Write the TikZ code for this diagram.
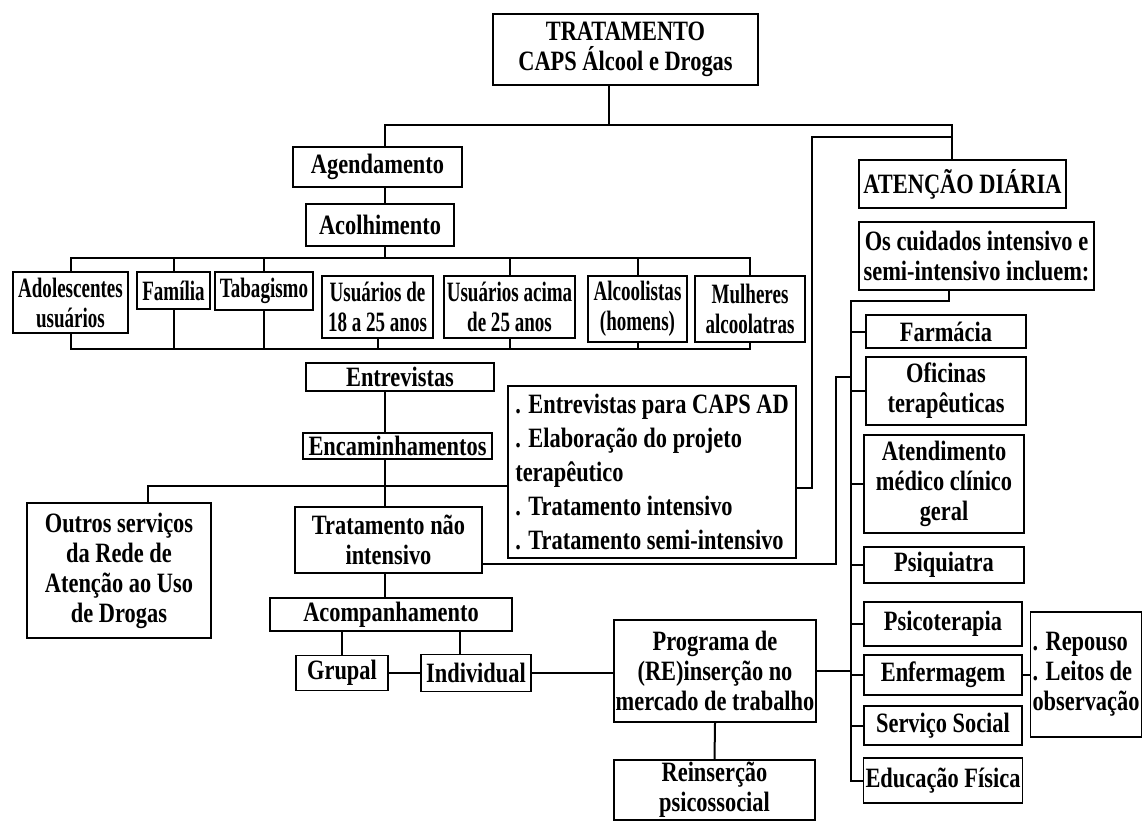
\documentclass[tikz,border=0pt]{standalone}
\usepackage{fontspec}
\setmainfont{Liberation Serif}[FakeStretch=0.8]
\newfontfamily\narrowfont{Liberation Serif}[FakeStretch=0.68]

\begin{document}
\begin{tikzpicture}[x=0.5pt, y=-0.5pt, line width=1pt,
  box/.style={draw, line width=0.9pt, align=center, inner sep=1pt, font=\bfseries\fontsize{14}{15}\selectfont},
  narrowbox/.style={box, font=\narrowfont\bfseries\fontsize{14}{15}\selectfont},
  listbox/.style={box, align=left, font=\bfseries\fontsize{14}{17}\selectfont}]
\useasboundingbox (0,0) rectangle (1144,821);
% organograma do tratamento no CAPS AD
\node[box, minimum width=132.5pt, minimum height=35.5pt] (trat) at (625.5,49.5) {TRATAMENTO\\CAPS Álcool e Drogas};
\node[box, minimum width=84.5pt, minimum height=20pt] (agend) at (377.5,167) {Agendamento};
\node[box, minimum width=74pt, minimum height=21pt] (acolh) at (380,225) {Acolhimento};

\node[narrowbox, minimum width=57.5pt, minimum height=30.5pt] (adol) at (70.5,302.5) {Adolescentes\\usuários};
\node[narrowbox, minimum width=36.5pt, minimum height=18.5pt] (fam) at (173.5,290.5) {Família};
\node[narrowbox, minimum width=49pt, minimum height=19pt] (tabag) at (264,291) {Tabagismo};
\node[narrowbox, minimum width=55.5pt, minimum height=31pt] (us18) at (377.5,307) {Usuários de\\18 a 25 anos};
\node[narrowbox, minimum width=65.5pt, minimum height=31pt] (us25) at (509.5,307) {Usuários acima\\de 25 anos};
\node[narrowbox, minimum width=49.5pt, minimum height=33pt] (alco) at (637.5,309) {Alcoolistas\\(homens)};
\node[narrowbox, minimum width=55pt, minimum height=33pt] (mulh) at (750,309) {Mulheres\\alcoolatras};

\node[box, minimum width=94pt, minimum height=14pt] (entrev) at (400,377) {Entrevistas};
\node[box, minimum width=94.5pt, minimum height=13pt] (encam) at (397.5,446) {Encaminhamentos};
\node[listbox, minimum width=144pt, minimum height=86pt] (lista) at (652,472) {. Entrevistas para CAPS AD\\. Elaboração do projeto\\terapêutico\\. Tratamento intensivo\\. Tratamento semi-intensivo};
\node[box, minimum width=92pt, minimum height=67.5pt] (outros) at (119,570.5) {Outros serviços\\da Rede de\\Atenção ao Uso\\de Drogas};
\node[box, minimum width=93.5pt, minimum height=33pt] (tni) at (388.5,540) {Tratamento não\\intensivo};
\node[box, minimum width=121pt, minimum height=16.5pt] (acomp) at (391,614.5) {Acompanhamento};
\node[box, minimum width=46pt, minimum height=17.5pt] (grupal) at (342,673) {Grupal};
\node[box, minimum width=55pt, minimum height=18.5pt] (indiv) at (476,673) {Individual};
\node[box, minimum width=101pt, minimum height=51pt] (prog) at (715,671) {Programa de\\(RE)inserção no\\mercado de trabalho};
\node[box, minimum width=100.5pt, minimum height=28pt] (reins) at (714.5,790) {Reinserção\\psicossocial};

\node[box, minimum width=103.5pt, minimum height=24pt] (aten) at (962.5,184) {ATENÇÃO DIÁRIA};
\node[box, minimum width=117.5pt, minimum height=34pt] (cuid) at (976.5,256) {Os cuidados intensivo e\\semi-intensivo incluem:};
\node[box, minimum width=80pt, minimum height=16.5pt] (farm) at (946,331.5) {Farmácia};
\node[box, minimum width=80pt, minimum height=34pt] (ofic) at (946,391) {Oficinas\\terapêuticas};
\node[box, minimum width=80pt, minimum height=49pt] (atend) at (944,484) {Atendimento\\médico clínico\\geral};
\node[box, minimum width=80pt, minimum height=18pt] (psiq) at (944,565) {Psiquiatra};
\node[box, minimum width=79pt, minimum height=22pt] (psico) at (943,624) {Psicoterapia};
\node[box, minimum width=79pt, minimum height=20pt] (enferm) at (943,675) {Enfermagem};
\node[box, minimum width=79pt, minimum height=19.5pt] (servs) at (943,725.5) {Serviço Social};
\node[box, minimum width=79pt, minimum height=22.5pt] (edfis) at (943,780.5) {Educação Física};
\node[box, align=left, minimum width=55pt, minimum height=62.5pt] (repouso) at (1086,674.5) {. Repouso\\. Leitos de\\observação};

% pontos de ligação
\coordinate (tb1) at (385,125);
\coordinate (tb2) at (952,125);
\coordinate (lb) at (812,137);
\coordinate (ub) at (0,258);
\coordinate (lbus) at (0,349);
\coordinate (eh) at (0,486);
\coordinate (sp) at (851,301);
\coordinate (tk) at (836,377);

% ligações
\draw ([xshift=-8.25pt]trat.south) -- ([xshift=-8.25pt]trat.south |- tb1);
\draw (agend.north -| tb1) |- (tb2) -- (aten.north -| tb2);
\draw ([yshift=-8pt]lista.east) -| (lb) -- (lb -| tb2);
\draw (agend.south -| tb1) -- (acolh.north -| tb1);
\draw (acolh.south -| tb1) -- (tb1 |- ub);
\draw (adol.north) |- (mulh.north |- ub) -- (mulh.north);
\foreach \n in {fam,tabag,us25,alco}
  \draw (\n.north) -- (\n.north |- ub);
\draw (adol.south) |- (mulh.south |- lbus) -- (mulh.south);
\foreach \n in {fam,tabag,us18,us25,alco}
  \draw (\n.south) -- (\n.south |- lbus);
\draw (entrev.south -| tb1) -- (encam.north -| tb1);
\draw (encam.south -| tb1) -- (tni.north -| tb1);
\draw ([xshift=14.5pt]outros.north) |- (lista.west |- eh);
\draw (tni.south -| tb1) -- (acomp.north -| tb1);
\draw (acomp.south -| grupal) -- (grupal.north);
\draw ([xshift=-8pt]indiv.north) -- ([xshift=-8pt]indiv.north |- acomp.south);
\draw (grupal) -- (indiv);
\draw (indiv) -- (prog.west |- indiv);
\draw (prog.south) -- (reins.north);
\draw (prog.east) -- (prog.east -| sp);
\draw ([xshift=-13.75pt]cuid.south) |- (sp) |- (edfis.west);
\foreach \n in {farm,ofic,atend,psiq,psico,enferm,servs}
  \draw (\n.west) -- (\n.west -| sp);
\draw ([yshift=-12pt]tni.east) -| (tk) -- (tk -| sp);
\draw (enferm.east) -- (repouso.west |- enferm.east);
\end{tikzpicture}
\end{document}
